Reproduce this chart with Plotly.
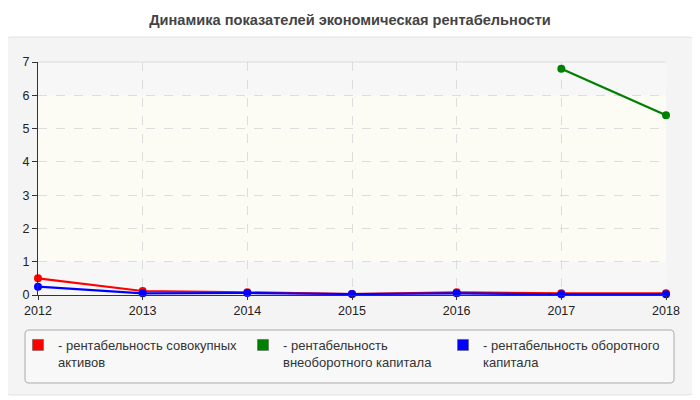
import plotly.graph_objects as go

years = [2012, 2013, 2014, 2015, 2016, 2017, 2018]
total_assets = [0.5, 0.12, 0.08, 0.03, 0.08, 0.05, 0.05]
noncurrent_capital = [None, None, None, None, None, 6.8, 5.4]
working_capital = [0.25, 0.05, 0.06, 0.03, 0.05, 0.02, 0.02]

series = [
    ("рентабельность совокупных<br>активов", total_assets, "#ff0000"),
    ("рентабельность<br>внеоборотного капитала", noncurrent_capital, "#008000"),
    ("рентабельность оборотного<br>капитала", working_capital, "#0000ff"),
]

# page body has an 8px margin, so the figure is 8px smaller each way
W, H = 692, 392
L, T, PW, PH = 30, 54, 628, 233
legend_x = [10, 235, 435]  # left edge of each legend entry, px

fig = go.Figure()
for name, vals, color in series:
    fig.add_trace(go.Scatter(
        x=years, y=vals, mode="lines+markers", showlegend=False,
        line=dict(color=color, width=2.2), marker=dict(size=8, color=color),
        cliponaxis=False, hoverinfo="x+y"))
# legend swatches (rounded boxes in the original), one legend per entry
legends = {}
for i, (name, vals, color) in enumerate(series):
    key = "legend" if i == 0 else f"legend{i + 1}"
    fig.add_trace(go.Scatter(
        x=[None], y=[None], mode="markers", name="- " + name, legend=key,
        marker=dict(symbol="square", size=11, color=color,
                    line=dict(color="#555", width=0.5))))
    legends[key] = dict(
        xref="container", yref="container", x=legend_x[i] / W,
        y=1 - 322 / H, xanchor="left", yanchor="top", valign="top",
        bgcolor="rgba(0,0,0,0)", borderwidth=0, itemwidth=30,
        font=dict(size=13, color="#333"))


def px_x(p):
    return (p - L) / PW


def px_y(p):
    return (T + PH - p) / PH


def round_rect(x0, y0, x1, y1, r):
    # rounded rectangle in figure pixels -> paper path
    X = lambda p: f"{px_x(p):.5f}"
    Y = lambda p: f"{px_y(p):.5f}"
    return (f"M{X(x0 + r)},{Y(y0)} L{X(x1 - r)},{Y(y0)} "
            f"Q{X(x1)},{Y(y0)} {X(x1)},{Y(y0 + r)} L{X(x1)},{Y(y1 - r)} "
            f"Q{X(x1)},{Y(y1)} {X(x1 - r)},{Y(y1)} L{X(x0 + r)},{Y(y1)} "
            f"Q{X(x0)},{Y(y1)} {X(x0)},{Y(y1 - r)} L{X(x0)},{Y(y0 + r)} "
            f"Q{X(x0)},{Y(y0)} {X(x0 + r)},{Y(y0)} Z")


# outer grey panel
fig.add_shape(type="path", xref="paper", yref="paper", layer="below",
              path=round_rect(-3, 29, 687, 387, 7),
              fillcolor="#f4f4f4", line=dict(color="#e0e0e0", width=1))
# legend box
fig.add_shape(type="path", xref="paper", yref="paper", layer="below",
              path=round_rect(17, 322, 666, 375, 4),
              fillcolor="#f8f8f8", line=dict(color="#aaaaaa", width=1))
# plot background bands
for y0, y1, c in [(0, 1, "#f7f7f7"), (1, 6, "#fcfcf4"), (6, 7, "#f7f7f7")]:
    fig.add_shape(type="rect", xref="paper", yref="y", layer="below",
                  x0=0, x1=1, y0=y0, y1=y1, fillcolor=c, line_width=0)
fig.add_shape(type="line", xref="paper", yref="paper", layer="below",
              x0=0, x1=1, y0=1, y1=1, line=dict(color="#dcdcdc", width=1))

fig.update_layout(
    width=W, height=H,
    font=dict(family="Liberation Sans, Arial, sans-serif", size=12, color="#222"),
    title=dict(text="<b>Динамика показателей экономическая рентабельности</b>",
               x=342 / W, y=1 - 12 / H, xanchor="center", yanchor="middle",
               font=dict(size=14.6, color="#444")),
    paper_bgcolor="white", plot_bgcolor="white",
    margin=dict(l=L, r=W - L - PW, t=T, b=H - T - PH, autoexpand=False),
    showlegend=True,
    **legends,
)
fig.update_xaxes(range=[2012, 2018], tickvals=years, showline=True,
                 linecolor="#333", ticks="outside", ticklen=4, tickcolor="#333",
                 showgrid=True, gridcolor="#dddddd", griddash="dash",
                 zeroline=False, tickfont=dict(size=12.5, color="#222"))
fig.update_yaxes(range=[0, 7], dtick=1, showline=True, linecolor="#333",
                 ticks="outside", ticklen=5, tickcolor="#333",
                 showgrid=True, gridcolor="#dddddd", griddash="dash",
                 zeroline=False, tickfont=dict(size=12.5, color="#222"))

fig.write_html("out.html")
